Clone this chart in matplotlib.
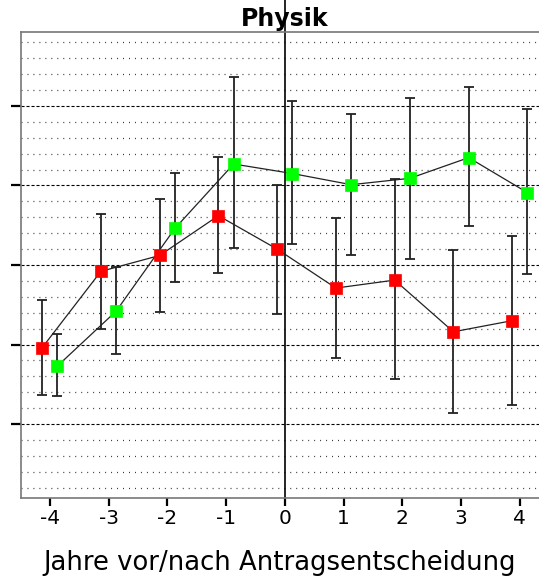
import matplotlib
matplotlib.use("Agg")
import matplotlib.pyplot as plt
import numpy as np

plt.rcParams['font.family'] = ['DejaVu Sans']
plt.rcParams['lines.scale_dashes'] = False

years = [-4, -3, -2, -1, 0, 1, 2, 3, 4]
xtick_labels = ['-4', '-3', '-2', '-1', '0', '1', '2', '3', '4']

red_mean = [1.96, 2.92, 3.12, 3.62, 3.20, 2.71, 2.81, 2.16, 2.30]
red_upper = [2.56, 3.64, 3.83, 4.36, 4.01, 3.59, 4.08, 3.19, 3.36]
red_lower = [1.37, 2.20, 2.41, 2.90, 2.38, 1.83, 1.57, 1.14, 1.24]

green_mean = [1.73, 2.42, 3.46, 4.27, 4.15, 4.01, 4.09, 4.35, 3.91]
green_upper = [2.13, 2.97, 4.16, 5.37, 5.06, 4.90, 5.10, 5.24, 4.96]
green_lower = [1.35, 1.88, 2.79, 3.21, 3.26, 3.13, 3.08, 3.49, 2.89]

title = "Physik"
xlabel = "Jahre vor/nach Antragsentscheidung"

W, H = 539, 576
fig = plt.figure(figsize=(W / 100, H / 100), dpi=100)
ax = fig.add_axes([21 / W, (H - 498) / H, 527 / W, 466 / H])

ax.set_xlim(-4.49, 4.48)
ax.set_ylim(0.07, 5.93)

# grid lines
for v in np.arange(0.2, 5.81, 0.2):
    if abs(v - round(v)) < 1e-6:
        ax.axhline(v, color='black', lw=0.8, linestyle=(0, (2.2, 1.4)), zorder=1)
    else:
        ax.axhline(v, color='#333333', lw=0.9, linestyle=(0, (0.7, 3.6)), zorder=1)

# vertical line at 0
ax.axvline(0, ymin=0, ymax=1 + 32 / 466, color='black', lw=1.2, clip_on=False, zorder=2)

x = np.array(years, dtype=float)
off = 0.13

def draw(xs, mean, lo, hi, color):
    mean = np.array(mean); lo = np.array(lo); hi = np.array(hi)
    ax.plot(xs, mean, color='#222222', lw=0.9, zorder=3)
    ax.errorbar(xs, mean, yerr=[mean - lo, hi - mean], fmt='none',
                ecolor='#222222', elinewidth=1.3, capsize=3.6, capthick=1.3, zorder=3)
    ax.plot(xs, mean, linestyle='none', marker='s', markersize=8.6,
            markerfacecolor=color, markeredgecolor=color, markeredgewidth=0.5, zorder=4)

draw(x - off, red_mean, red_lower, red_upper, '#ff0000')
draw(x + off, green_mean, green_lower, green_upper, '#00ff00')

ax.set_xticks(years)
ax.set_xticklabels(xtick_labels, fontsize=14.5)
ax.set_yticks([1, 2, 3, 4, 5])
ax.set_yticklabels([])
ax.tick_params(axis='y', direction='out', length=7.5, width=1.6, color='black')
ax.tick_params(axis='x', direction='out', length=6, width=1.6, color='black', pad=2)

for s in ['left', 'top', 'bottom']:
    ax.spines[s].set_color('#777777')
    ax.spines[s].set_linewidth(1.2)
ax.spines['right'].set_visible(False)

ax.set_title(title, fontsize=17, fontweight='bold', pad=4)
ax.set_xlabel(xlabel, fontsize=18.6)
ax.xaxis.set_label_coords((280 - 21) / 527, -52 / 466)
ax.xaxis.label.set_va('top')

fig.savefig("out.png", dpi=100)
